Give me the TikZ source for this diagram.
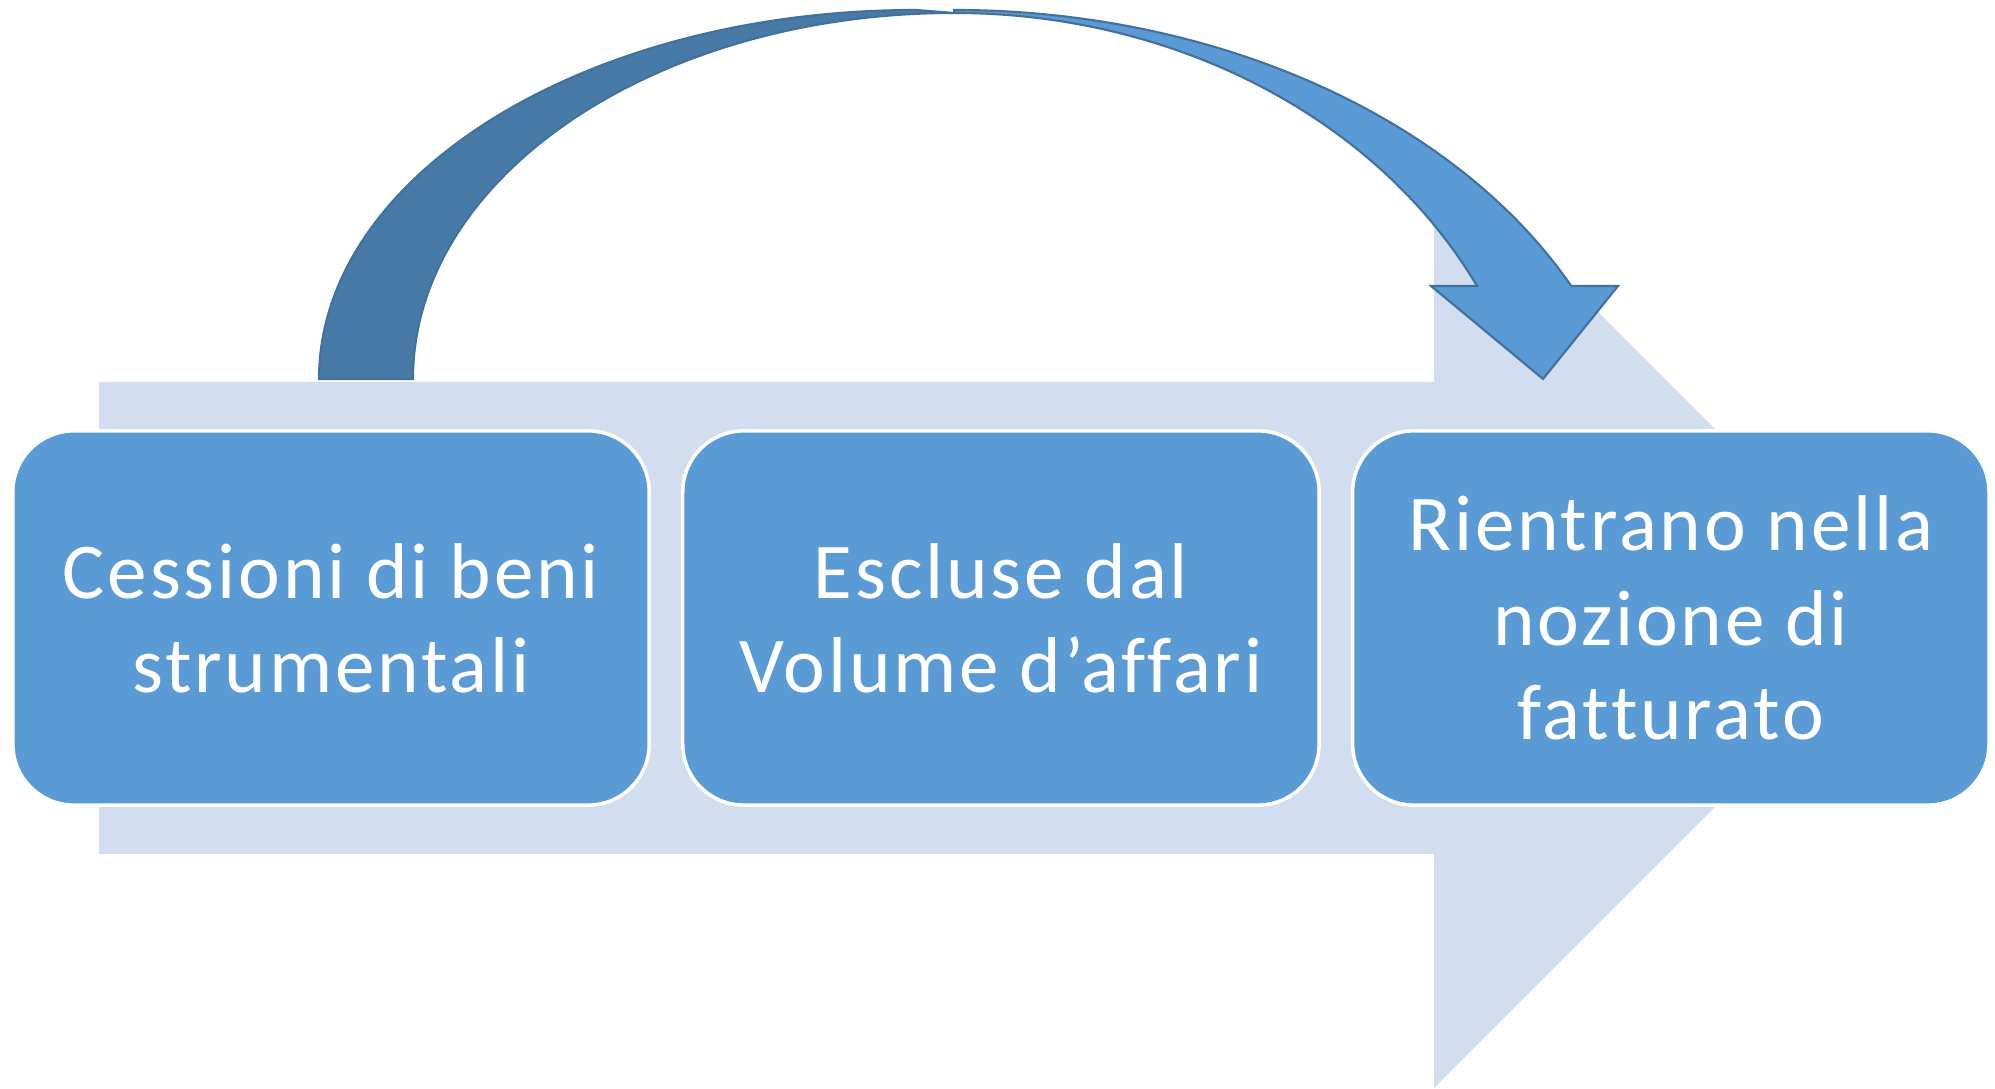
\documentclass[tikz,border=0pt]{standalone}
\usepackage{fontspec}
\setmainfont{Carlito}[LetterSpace=3.6,Ligatures=NoCommon]
\usetikzlibrary{positioning}

\definecolor{sfondo}{HTML}{D2DEEF}
\definecolor{azzurro}{HTML}{5B9BD5}
\definecolor{scuro}{HTML}{487AA8}
\definecolor{bordo}{HTML}{41719C}

\begin{document}
\begin{tikzpicture}[x=0.01cm,y=0.01cm,
    box/.style={draw=white,line width=1pt,fill=azzurro,rounded corners=0.61cm,
      minimum width=6.36cm,minimum height=3.74cm,inner sep=0pt,
      align=center,text=white,font=\fontsize{22.5}{26.8}\selectfont}]
      \useasboundingbox (0,0) rectangle (1995,1089);
      % freccia di sfondo
      \fill[sfondo] (99,707) -- (1434,707) -- (1434,941) -- (1904,471)
                    -- (1434,1) -- (1434,235) -- (99,235) -- cycle;
      % freccia curva: parte chiara
      \draw[bordo,line width=0.6pt,fill=azzurro] (954,1079)
            arc[start angle=90,end angle=26.55,x radius=690,y radius=499]
            -- (1618,803) -- (1543,710) -- (1431,803) -- (1477,803)
            arc[start angle=26.72,end angle=90,x radius=585,y radius=496]
            -- cycle;
      % freccia curva: parte scura
      \draw[bordo,line width=0.6pt,fill=scuro] (319,710)
            arc[start angle=180,end angle=90,x radius=597,y radius=369]
            -- (954,1076)
            arc[start angle=90,end angle=180,x radius=541,y radius=366]
            -- cycle;
      % caselle
      \node[box] (b1) at (331,471) {Cessioni di beni\\strumentali};
      \node[box,right=0.30cm of b1] (b2) {Escluse dal\\Volume d’affari};
      \node[box,right=0.30cm of b2] (b3) {Rientrano nella\\nozione di\\fatturato};
    \end{tikzpicture}
\end{document}
